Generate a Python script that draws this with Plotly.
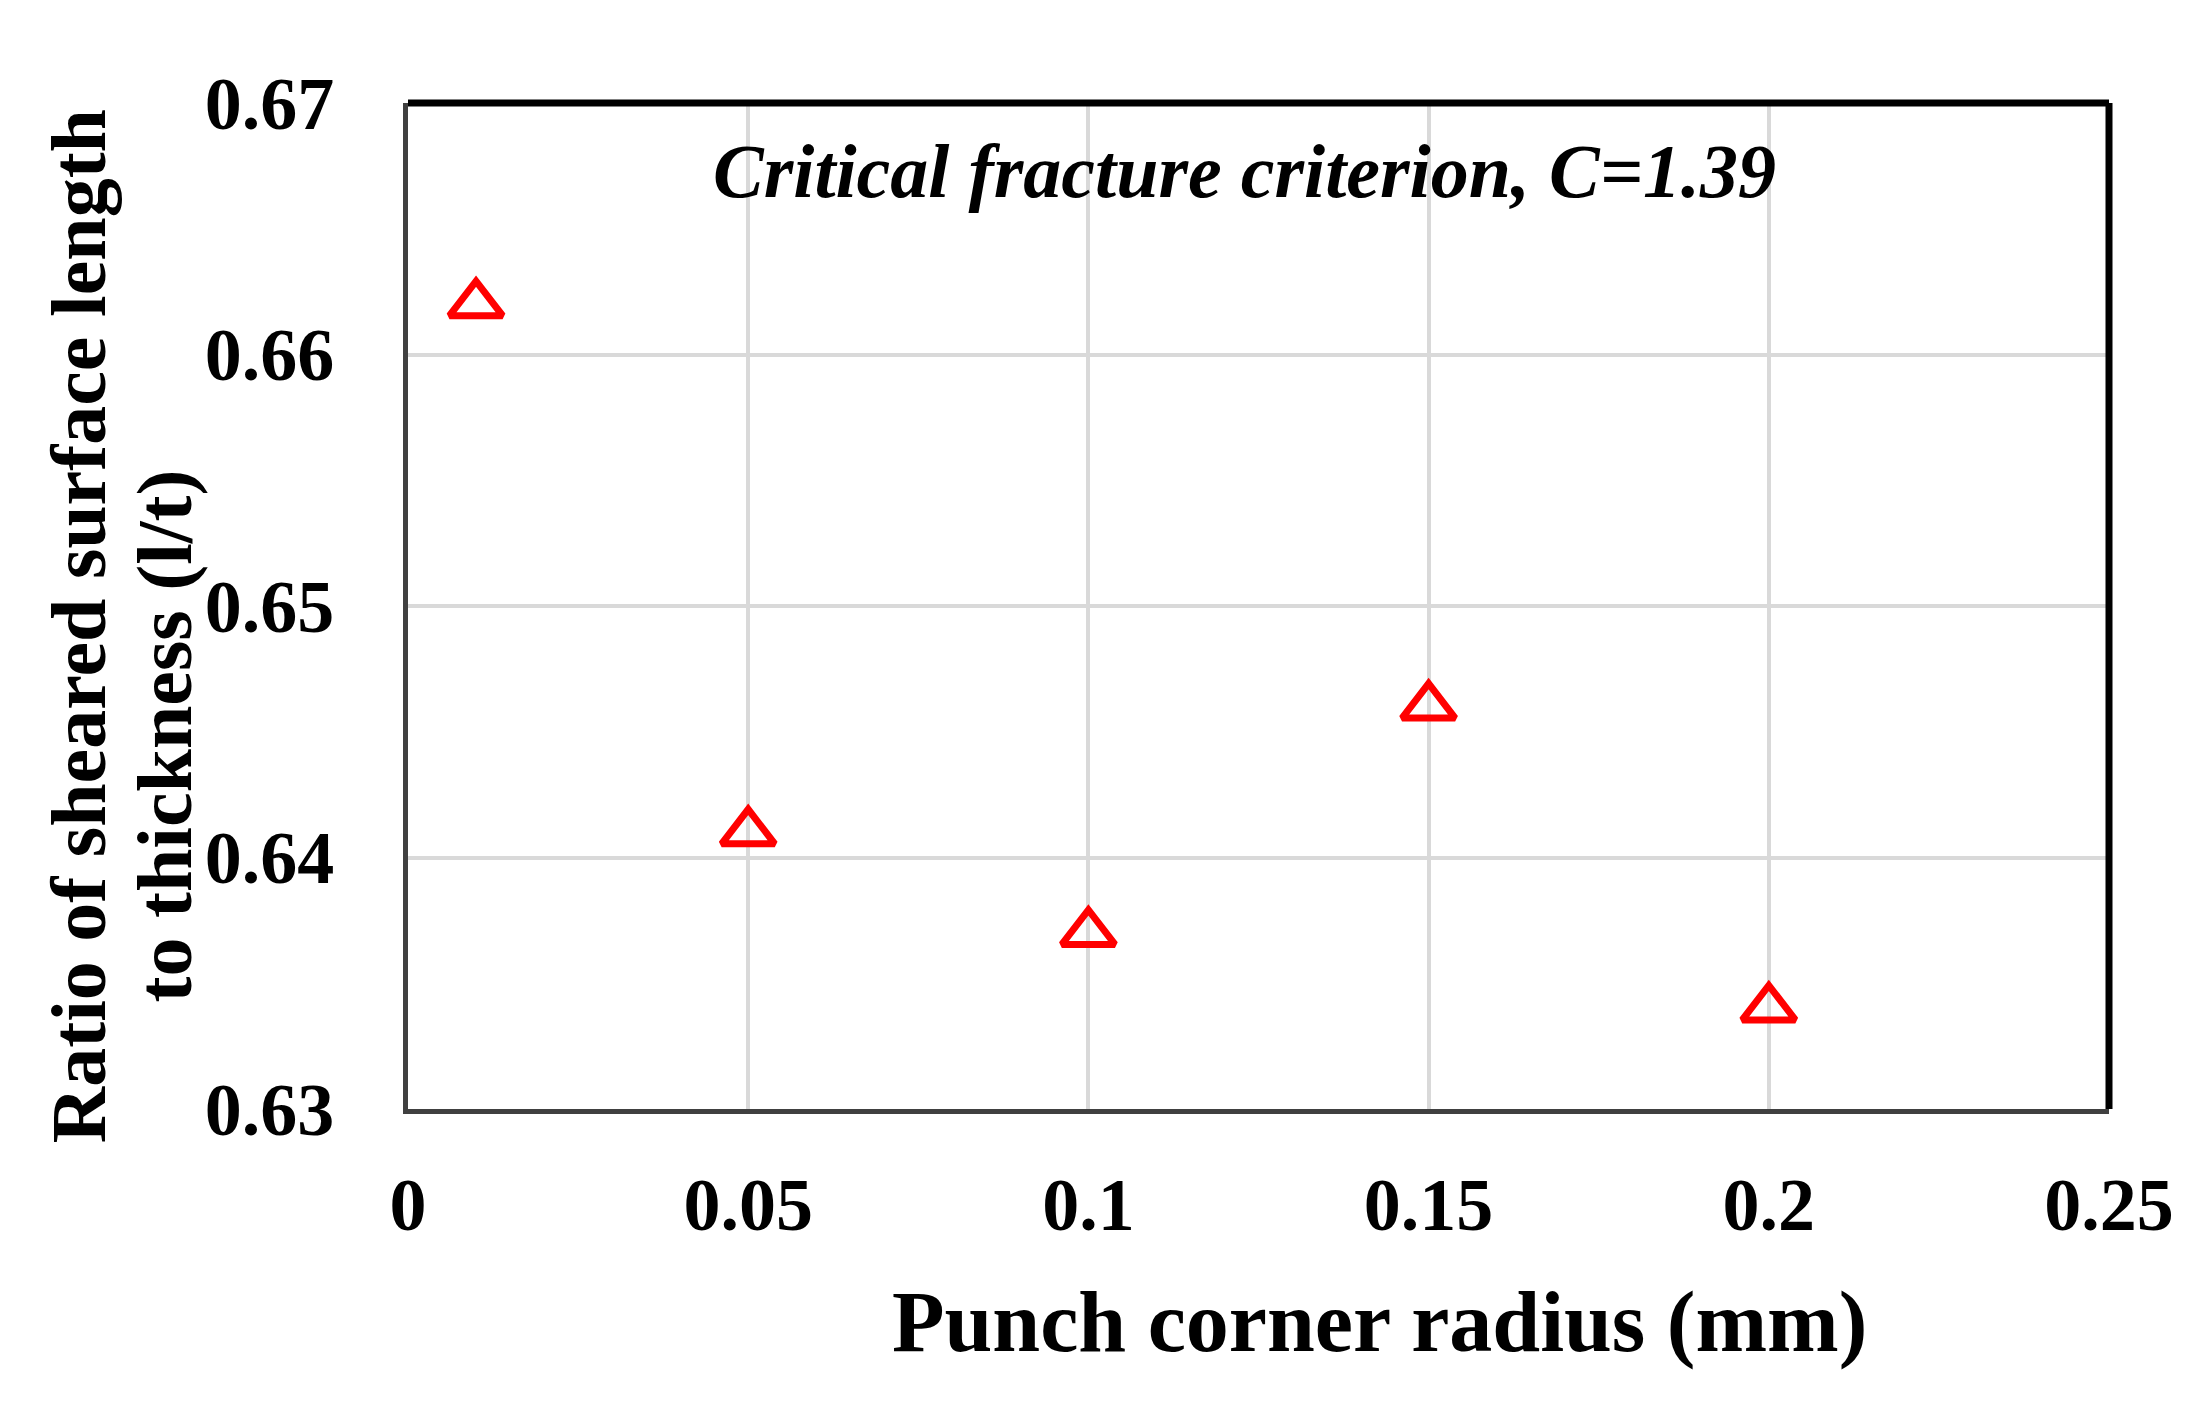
import plotly.graph_objects as go

# Data
radius_mm = [0.01, 0.05, 0.10, 0.15, 0.20]
ratio_lt = [0.662, 0.641, 0.637, 0.646, 0.634]

x_ticks = [0, 0.05, 0.1, 0.15, 0.2, 0.25]
x_tick_labels = ["0", "0.05", "0.1", "0.15", "0.2", "0.25"]
y_ticks = [0.63, 0.64, 0.65, 0.66, 0.67]
y_tick_labels = ["0.63", "0.64", "0.65", "0.66", "0.67"]

FONT = "Liberation Serif"

fig = go.Figure()
fig.add_trace(go.Scatter(
    x=radius_mm, y=ratio_lt, mode="markers",
    marker=dict(symbol="triangle-up-open", size=46, color="#ff0000",
                line=dict(color="#ff0000", width=7)),
    showlegend=False, cliponaxis=False,
))

fig.update_layout(
    width=2207, height=1416,
    margin=dict(l=400, r=106, t=95, b=315),
    paper_bgcolor="white", plot_bgcolor="white",
    font=dict(family=FONT, color="black"),
    xaxis=dict(range=[0, 0.25], tickvals=x_ticks, ticktext=x_tick_labels,
               showgrid=True, gridcolor="#d9d9d9", gridwidth=4,
               showline=True, linecolor="#404040", linewidth=5,
               zeroline=False, ticks="", ticklabelstandoff=27,
               tickfont=dict(family=FONT, size=74, color="black", weight="bold")),
    yaxis=dict(range=[0.63, 0.67], tickvals=y_ticks, ticktext=y_tick_labels,
               showgrid=True, gridcolor="#d9d9d9", gridwidth=4,
               showline=True, linecolor="#404040", linewidth=5,
               zeroline=False, ticks="", ticklabelstandoff=54,
               tickfont=dict(family=FONT, size=74, color="black", weight="bold")),
    shapes=[
        dict(type="line", xref="paper", yref="paper", x0=0, x1=1, y0=1, y1=1,
             line=dict(color="black", width=7)),
        dict(type="line", xref="paper", yref="paper", x0=1, x1=1, y0=0, y1=1,
             line=dict(color="black", width=7)),
    ],
    annotations=[
        dict(text="<b><i>Critical fracture criterion, C=1.39</i></b>",
             xref="paper", yref="paper", x=0.492, y=0.932,
             showarrow=False, xanchor="center", yanchor="middle",
             font=dict(family=FONT, size=76, color="black")),
        dict(text="<b>Punch corner radius (mm)</b>",
             xref="paper", yref="paper", x=0.571, y=-0.212,
             showarrow=False, xanchor="center", yanchor="middle",
             font=dict(family=FONT, size=86, color="black")),
        dict(text="<b>Ratio of sheared surface length</b>",
             xref="paper", yref="paper", x=-0.194, y=0.480, textangle=-90,
             showarrow=False, xanchor="center", yanchor="middle",
             font=dict(family=FONT, size=78, color="black")),
        dict(text="<b>to thickness (l/t)</b>",
             xref="paper", yref="paper", x=-0.143, y=0.371, textangle=-90,
             showarrow=False, xanchor="center", yanchor="middle",
             font=dict(family=FONT, size=78, color="black")),
    ],
)

fig.write_html("out.html")
